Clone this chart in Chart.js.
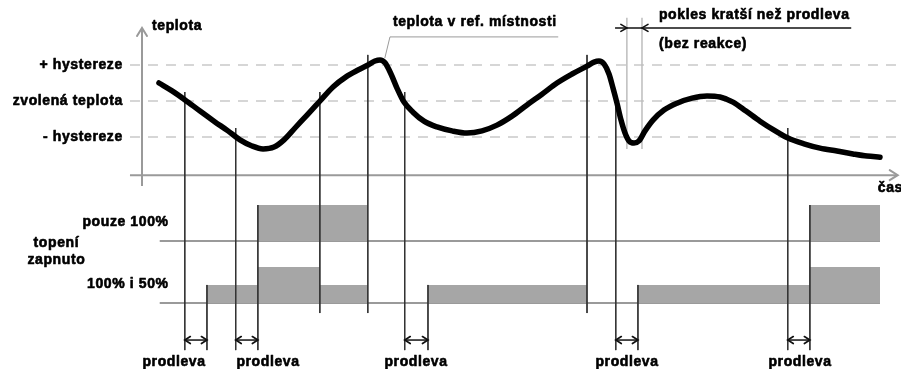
<!DOCTYPE html>
<html><head><meta charset="utf-8">
<script src="https://cdn.jsdelivr.net/npm/chart.js@4.4.1/dist/chart.umd.min.js"></script>
<style>html,body{margin:0;padding:0;background:#fff}#wrap{width:901px;height:369px}</style>
</head><body><div id="wrap"><canvas id="c" width="901" height="369"></canvas></div>
<script>
// ---- DATA (time in arbitrary units 0..100, temperature in hysteresis units relative to setpoint) ----
const curveTime = [2.30, 4.07, 5.83, 7.86, 9.89, 11.65, 13.28, 14.91, 16.40, 17.89, 19.24, 20.73, 22.36, 24.12, 25.88, 27.64, 29.27, 30.62, 31.57, 32.25, 32.93, 33.74, 34.55, 35.50, 36.72, 38.21, 39.97, 42.01, 44.04, 46.07, 48.10, 50.14, 52.17, 54.20, 56.23, 58.27, 60.30, 61.25, 61.92, 62.60, 63.28, 63.82, 64.36, 64.91, 65.45, 65.99, 66.67, 67.34, 68.16, 69.24, 70.73, 72.49, 74.53, 76.56, 78.32, 80.08, 81.84, 83.74, 85.64, 87.53, 89.70, 91.87, 94.17, 96.34, 98.24, 100];
const curveTemp = [0.50, 0.28, 0.03, -0.28, -0.58, -0.83, -1.08, -1.25, -1.33, -1.28, -1.08, -0.75, -0.39, 0.00, 0.39, 0.67, 0.86, 1.00, 1.11, 1.14, 1.06, 0.75, 0.36, -0.03, -0.31, -0.56, -0.72, -0.83, -0.89, -0.83, -0.67, -0.42, -0.11, 0.19, 0.50, 0.75, 0.97, 1.08, 1.11, 1.03, 0.75, 0.36, -0.06, -0.53, -0.89, -1.11, -1.17, -1.11, -0.83, -0.53, -0.25, -0.06, 0.08, 0.14, 0.11, -0.03, -0.28, -0.56, -0.81, -1.03, -1.19, -1.31, -1.39, -1.47, -1.53, -1.56];
const thresholdValues = [1, 0, -1];
const thresholdLabels = ['+ hystereze', 'zvolená teplota', '- hystereze'];
const heatTime     = [2.4, 8.8, 15.7, 24.1, 30.6, 38.75, 60.3, 67.2, 90.5, 100];
const heatOnly100  = [0,   0,   100,  100,  0,    0,     0,    0,    100,  100];
const heat100and50 = [0,   50,  100,  50,   0,    50,    0,    50,   100,  100];
const crossTimes   = [5.8, 12.7, 24.1, 30.6, 35.6, 60.3, 64.2, 87.5];
const crossLevels  = [0, -1, 0, 1, 0, 1, 0, -1];
const delayStart   = [5.8, 12.7, 35.6, 64.2, 87.5];
const delayEnd     = [8.8, 15.7, 38.75, 67.2, 90.5];
const dipTimes     = [65.7, 67.75];
const rowLabels    = ['pouze 100%', '100% i 50%'];
const delayLabel   = 'prodleva';

// ---- layout constants (not data) ----
const ROW_TOP = -3.89, ROW_BOT = -5.61;
const ARROW_Y = -6.64, LINE_LONG = -6.92, LINE_SHORT = -5.89;
const BLACK = '#111', GRID = '#c9c9c9', AXIS = '#9a9a9a', FILLC = '#a6a6a6', THIN = '#bdbdbd';

function seg(x1, y1, x2, y2, color, width, order, dash) {
  return {type: 'line', data: [{x: x1, y: y1}, {x: x2, y: y2}], borderColor: color, borderWidth: width,
    pointRadius: 0, fill: false, clip: false, order: order, borderDash: dash || [], tension: 0, borderCapStyle: 'butt'};
}
function heatRow(values, base) {
  return {type: 'line', data: heatTime.map((t, i) => ({x: t, y: base + values[i] / 100})), stepped: true,
    borderWidth: 0, borderColor: 'rgba(0,0,0,0)', backgroundColor: FILLC, fill: {value: base}, pointRadius: 0, clip: false, order: 6};
}
function valueAt(values, t) {
  let v = 0;
  for (let i = 0; i < heatTime.length; i++) if (heatTime[i] <= t + 1e-6) v = values[i];
  return v;
}

const datasets = [];
// temperature curve
datasets.push({type: 'line', data: curveTime.map((t, i) => ({x: t, y: curveTemp[i]})), borderColor: '#000', borderWidth: 5.5,
  pointRadius: 0, cubicInterpolationMode: 'monotone', borderCapStyle: 'round', borderJoinStyle: 'round', fill: false, clip: false, order: 0});
// threshold dashed lines
thresholdValues.forEach(v => datasets.push(seg(-1.63, v, 102.7, v, GRID, 1.3, 9, [10, 8])));
// axes
datasets.push(seg(-1.63, -2.06, 102.3, -2.06, AXIS, 2, 8));
datasets.push(seg(0, -2.36, 0, 1.98, AXIS, 2, 8));
// heating rows: baselines + blocks
datasets.push(seg(2.4, ROW_TOP, 100, ROW_TOP, AXIS, 2, 7));
datasets.push(seg(2.4, ROW_BOT, 100, ROW_BOT, AXIS, 2, 7));
datasets.push(heatRow(heatOnly100, ROW_TOP));
datasets.push(heatRow(heat100and50, ROW_BOT));
// threshold crossing lines
crossTimes.forEach((t, i) => {
  const top = crossLevels[i] + (crossLevels[i] === 1 ? 0.28 : 0.25);
  const bottom = delayStart.includes(t) ? LINE_LONG : LINE_SHORT;
  datasets.push(seg(t, top, t, bottom, '#333', 1, 2));
});
// switching lines after delay
delayEnd.forEach(t => {
  let top = -99;
  const a = valueAt(heatOnly100, t), b = valueAt(heat100and50, t);
  if (a > 0) top = Math.max(top, ROW_TOP + a / 100);
  if (b > 0) top = Math.max(top, ROW_BOT + b / 100);
  datasets.push(seg(t, top, t, LINE_LONG, '#333', 1, 2));
});
// delay arrows (shafts)
delayStart.forEach((t, i) => datasets.push(seg(t, ARROW_Y, delayEnd[i], ARROW_Y, BLACK, 1.5, 1)));
// short dip markers
dipTimes.forEach(t => datasets.push(seg(t, 2.31, t, -1.33, THIN, 1.5, 3)));
datasets.push(seg(64.1, 2.03, 96.1, 2.03, BLACK, 1.5, 1));
// leader line for curve annotation
datasets.push({type: 'line', data: [{x: 32.9, y: 1.19}, {x: 33.6, y: 1.78}, {x: 56.4, y: 1.78}], borderColor: AXIS, borderWidth: 1,
  pointRadius: 0, fill: false, clip: false, order: 1, tension: 0});

const annot = {
  id: 'annot',
  afterDatasetsDraw(chart) {
    const ctx = chart.ctx, xs = chart.scales.x, ys = chart.scales.y;
    const X = v => xs.getPixelForValue(v), Y = v => ys.getPixelForValue(v);
    ctx.save();
    function head(x, y, dir, color, len, half, w) { // dir: 'l','r','u'
      ctx.strokeStyle = color; ctx.lineWidth = w; ctx.lineCap = 'round'; ctx.lineJoin = 'miter';
      ctx.beginPath();
      if (dir === 'r') { ctx.moveTo(x - len, y - half); ctx.lineTo(x, y); ctx.lineTo(x - len, y + half); }
      else if (dir === 'l') { ctx.moveTo(x + len, y - half); ctx.lineTo(x, y); ctx.lineTo(x + len, y + half); }
      else { ctx.moveTo(x - half, y + len); ctx.lineTo(x, y); ctx.lineTo(x + half, y + len); }
      ctx.stroke();
    }
    head(X(0), Y(2.03), 'u', AXIS, 8, 5, 2);
    head(X(102.4), Y(-2.06), 'r', AXIS, 8, 5, 2);
    delayStart.forEach((t, i) => {
      head(X(t), Y(ARROW_Y), 'l', BLACK, 5.5, 3.5, 1.7);
      head(X(delayEnd[i]), Y(ARROW_Y), 'r', BLACK, 5.5, 3.5, 1.7);
    });
    head(X(dipTimes[0]), Y(2.03), 'r', BLACK, 6, 3.5, 1.6);
    head(X(dipTimes[1]), Y(2.03), 'l', BLACK, 6, 3.5, 1.6);
    ctx.fillStyle = '#000'; ctx.strokeStyle = '#000'; ctx.lineWidth = 0.6; ctx.lineJoin = 'round';
    ctx.font = 'bold 14px "Liberation Sans", Arial, sans-serif';
    try { ctx.letterSpacing = '0.6px'; } catch (e) {}
    ctx.textBaseline = 'middle';
    function txt(s, t, v, align) { ctx.textAlign = align; ctx.fillText(s, X(t), Y(v)); ctx.strokeText(s, X(t), Y(v)); }
    txt('teplota', 1.36, 2.08, 'left');
    thresholdValues.forEach((v, i) => txt(thresholdLabels[i], -2.6, v, 'right'));
    txt('čas', 99.7, -2.42, 'left');
    txt(rowLabels[0], 3.6, -3.36, 'right');
    txt('topení', -11.6, -3.94, 'center');
    txt('zapnuto', -11.6, -4.42, 'center');
    txt(rowLabels[1], 3.6, -5.08, 'right');
    [4.34, 17.07, 37.13, 65.72, 89.16].forEach(t => txt(delayLabel, t, -7.25, 'center'));
    txt('teplota v ref. místnosti', 34.0, 2.19, 'left');
    txt('pokles kratší než prodleva', 70.05, 2.39, 'left');
    txt('(bez reakce)', 70.05, 1.58, 'left');
    ctx.restore();
  }
};

new Chart(document.getElementById('c'), {
  type: 'line',
  data: {datasets: datasets},
  options: {
    responsive: false, animation: false, events: [],
    layout: {padding: {left: 142, right: 21, top: 29, bottom: 16}},
    scales: {
      x: {type: 'linear', min: 0, max: 100, display: false},
      y: {type: 'linear', min: -7, max: 2, display: false}
    },
    plugins: {legend: {display: false}, tooltip: {enabled: false}}
  },
  plugins: [annot]
});
</script>
</body></html>
